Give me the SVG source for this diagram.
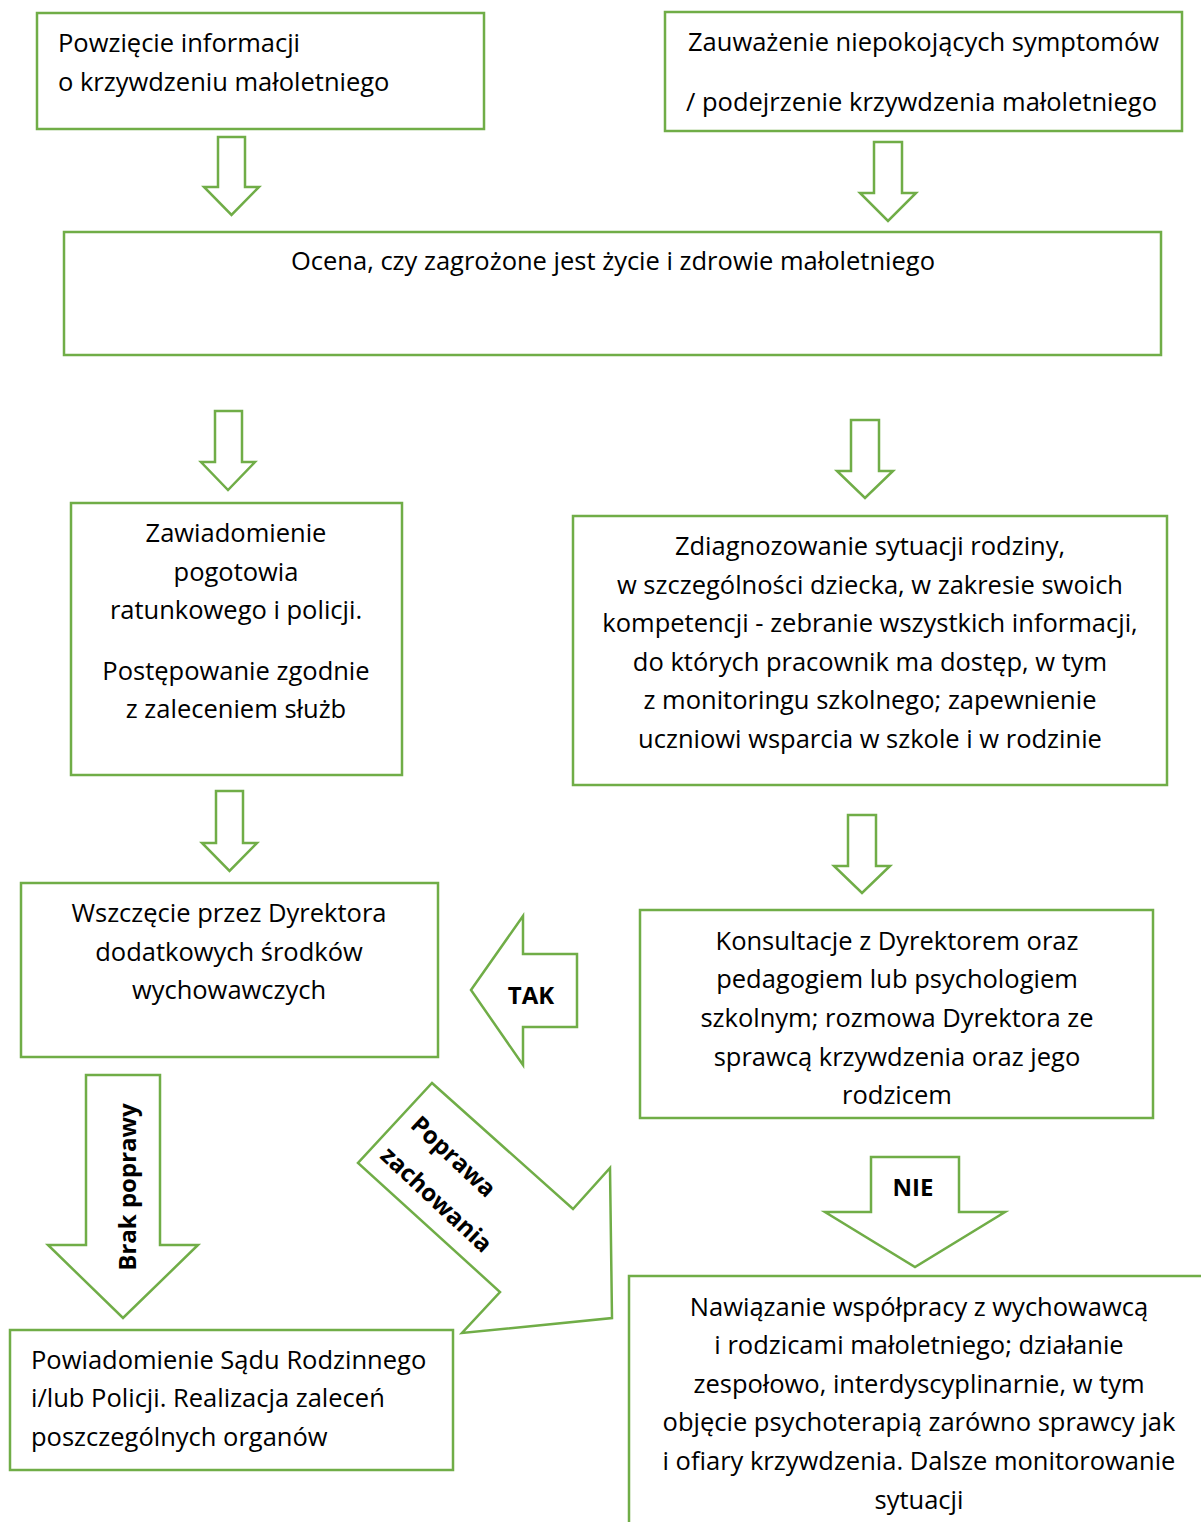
<svg xmlns="http://www.w3.org/2000/svg" width="1201" height="1522" viewBox="0 0 1201 1522">
<style>
.b{fill:#fff;stroke:#70AD47;stroke-width:2.5}
.a{fill:#fff;stroke:#70AD47;stroke-width:2.5;stroke-linejoin:miter}
text{font-family:"Open Sans","Noto Sans","Liberation Sans",sans-serif;font-size:25.5px;fill:#000}
.c{text-anchor:middle}
.l{font-weight:bold;font-size:24px}
</style>
<rect width="1201" height="1522" fill="#fff"/>
<g id="connectors">
<polygon class="a" points="218,137 245,137 245,187 259,187 231.5,215 204,187 218,187"/>
<polygon class="a" points="874,142 902,142 902,193 916,193 888,221 860,193 874,193"/>
<polygon class="a" points="215,411 242,411 242,462 255,462 228,490 201,462 215,462"/>
<polygon class="a" points="851,420 879,420 879,471 893,471 865,498 837,471 851,471"/>
<polygon class="a" points="216,791 243,791 243,843 257,843 229.5,871 202,843 216,843"/>
<polygon class="a" points="848,815 876,815 876,866 890,866 862,893 834,866 848,866"/>
<g id="arrow-tak">
<polygon class="a" points="471,990 523,916 523,954 577,954 577,1027 523,1027 523,1065"/>
<text class="c l" x="531" y="1004">TAK</text>
</g>
<g id="arrow-poprawa">
<polygon class="a" points="432,1083 573,1209 610,1168 612,1318 462,1333 500,1292 358,1163"/>
<text class="c l" transform="translate(454,1156) rotate(43)" y="9">Poprawa</text>
<text class="c l" transform="translate(437,1199) rotate(43)" y="9">zachowania</text>
</g>
<g id="arrow-brak">
<polygon class="a" points="86,1075 160,1075 160,1245 198,1245 123,1318 48,1245 86,1245"/>
<text class="c l" transform="translate(127,1187) rotate(-90)" y="9">Brak poprawy</text>
</g>
<g id="arrow-nie">
<polygon class="a" points="871,1157 959,1157 959,1212 1005,1212 915,1267 825,1212 871,1212"/>
<text class="c l" x="913" y="1196">NIE</text>
</g>
</g>
<g id="n1">
<rect class="b" x="37" y="13" width="447" height="116"/>
<text x="58" y="52">Powzięcie informacji</text>
<text x="58" y="91">o krzywdzeniu małoletniego</text>
</g>
<g id="n2">
<rect class="b" x="665" y="12" width="517" height="119"/>
<text x="688" y="51">Zauważenie niepokojących symptomów</text>
<text x="686" y="111">/ podejrzenie krzywdzenia małoletniego</text>
</g>
<g id="n3">
<rect class="b" x="64" y="232" width="1097" height="123"/>
<text class="c" x="613" y="270">Ocena, czy zagrożone jest życie i zdrowie małoletniego</text>
</g>
<g id="n4">
<rect class="b" x="71" y="503" width="331" height="272"/>
<text class="c" x="236" y="542">Zawiadomienie</text>
<text class="c" x="236" y="581">pogotowia</text>
<text class="c" x="236" y="619">ratunkowego i policji.</text>
<text class="c" x="236" y="680">Postępowanie zgodnie</text>
<text class="c" x="236" y="718">z zaleceniem służb</text>
</g>
<g id="n5">
<rect class="b" x="573" y="516" width="594" height="269"/>
<text class="c" x="870" y="555">Zdiagnozowanie sytuacji rodziny,</text>
<text class="c" x="870" y="594">w szczególności dziecka, w zakresie swoich</text>
<text class="c" x="870" y="632">kompetencji - zebranie wszystkich informacji,</text>
<text class="c" x="870" y="671">do których pracownik ma dostęp, w tym</text>
<text class="c" x="870" y="709">z monitoringu szkolnego; zapewnienie</text>
<text class="c" x="870" y="748">uczniowi wsparcia w szkole i w rodzinie</text>
</g>
<g id="n6">
<rect class="b" x="21" y="883" width="417" height="174"/>
<text class="c" x="229" y="922">Wszczęcie przez Dyrektora</text>
<text class="c" x="229" y="961">dodatkowych środków</text>
<text class="c" x="229" y="999">wychowawczych</text>
</g>
<g id="n7">
<rect class="b" x="640" y="910" width="513" height="208"/>
<text class="c" x="897" y="950">Konsultacje z Dyrektorem oraz</text>
<text class="c" x="897" y="988">pedagogiem lub psychologiem</text>
<text class="c" x="897" y="1027">szkolnym; rozmowa Dyrektora ze</text>
<text class="c" x="897" y="1066">sprawcą krzywdzenia oraz jego</text>
<text class="c" x="897" y="1104">rodzicem</text>
</g>
<g id="n8">
<rect class="b" x="629" y="1276" width="600" height="300"/>
<text class="c" x="919" y="1316">Nawiązanie współpracy z wychowawcą</text>
<text class="c" x="919" y="1354">i rodzicami małoletniego; działanie</text>
<text class="c" x="919" y="1393">zespołowo, interdyscyplinarnie, w tym</text>
<text class="c" x="919" y="1431">objęcie psychoterapią zarówno sprawcy jak</text>
<text class="c" x="919" y="1470">i ofiary krzywdzenia. Dalsze monitorowanie</text>
<text class="c" x="919" y="1509">sytuacji</text>
</g>
<g id="n9">
<rect class="b" x="10" y="1330" width="443" height="140"/>
<text x="31" y="1369">Powiadomienie Sądu Rodzinnego</text>
<text x="31" y="1407">i/lub Policji. Realizacja zaleceń</text>
<text x="31" y="1446">poszczególnych organów</text>
</g>
</svg>
